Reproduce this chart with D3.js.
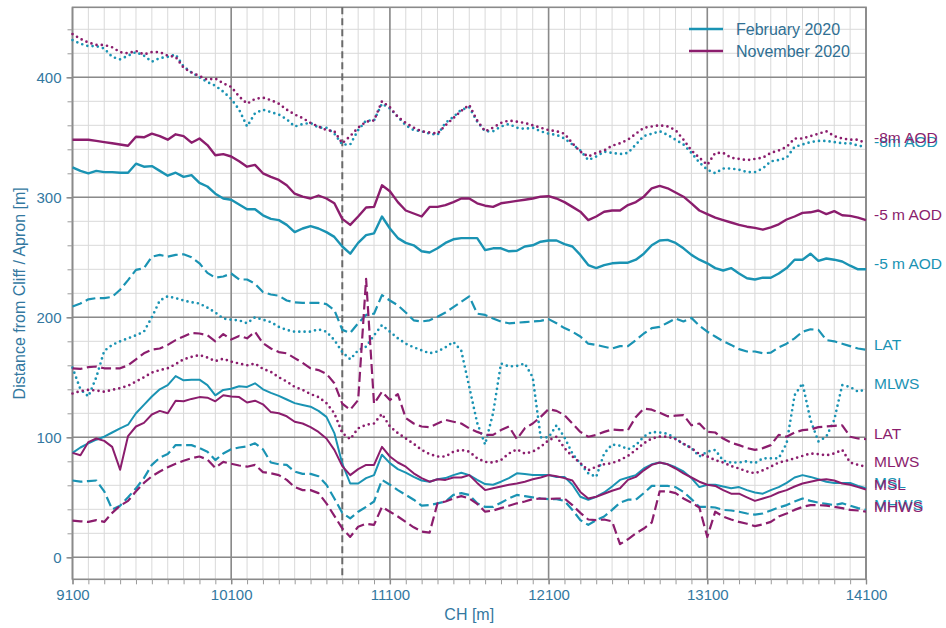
<!DOCTYPE html>
<html>
<head>
<meta charset="utf-8">
<script src="https://cdn.jsdelivr.net/npm/d3@7"></script>
<style>
  html, body { margin: 0; padding: 0; background: #fff; }
  svg { display: block; font-family: "Liberation Sans", Arial, sans-serif; }
</style>
</head>
<body>
<svg id="chart" width="946" height="628"></svg>
<script>
// Chainage along the frontage (m), one sample every 50 m
const ch = [
  9100, 9150, 9200, 9250, 9300, 9350, 9400, 9450, 9500, 9550,
  9600, 9650, 9700, 9750, 9800, 9850, 9900, 9950, 10000, 10050,
  10100, 10150, 10200, 10250, 10300, 10350, 10400, 10450, 10500, 10550,
  10600, 10650, 10700, 10750, 10800, 10850, 10900, 10950, 11000, 11050,
  11100, 11150, 11200, 11250, 11300, 11350, 11400, 11450, 11500, 11550,
  11600, 11650, 11700, 11750, 11800, 11850, 11900, 11950, 12000, 12050,
  12100, 12150, 12200, 12250, 12300, 12350, 12400, 12450, 12500, 12550,
  12600, 12650, 12700, 12750, 12800, 12850, 12900, 12950, 13000, 13050,
  13100, 13150, 13200, 13250, 13300, 13350, 13400, 13450, 13500, 13550,
  13600, 13650, 13700, 13750, 13800, 13850, 13900, 13950, 14000, 14050,
  14100
];

// Distance from cliff / apron (m) of each contour, February 2020 survey
const feb_m8 = [
  431, 428, 426, 426, 424, 417, 415, 418, 421, 418,
  413, 416, 417, 419, 409, 404, 400, 396, 393, 388,
  382, 373, 359, 370, 373, 371, 369, 365, 359, 361,
  362, 358, 358, 353, 344, 344, 356, 364, 364, 378,
  374, 367, 360, 356, 355, 353, 352, 362, 367, 373,
  375, 363, 355, 355, 359, 361, 358, 357, 358, 355,
  353, 352, 349, 344, 339, 331, 334, 338, 337, 336,
  337, 344, 351, 353, 355, 352, 348, 344, 337, 329,
  323, 320, 324, 324, 323, 321, 321, 324, 330, 331,
  333, 342, 344, 346, 347, 347, 346, 345, 345, 343,
  342
];
const feb_m5 = [
  325, 322, 320, 322, 321, 321, 320.5, 320.5, 328, 325.5,
  326, 322, 318, 320.5, 317, 318.5, 312, 309, 303, 299,
  298, 294, 290, 290, 285, 282, 281, 277, 271, 274,
  276, 274, 271, 267, 259, 253, 262, 268.5, 270, 284,
  274, 266, 262, 260, 255, 254, 257.5, 262, 265, 266,
  266, 266, 256, 257.5, 257.5, 255, 255.5, 259, 260, 263,
  264, 264, 261, 259, 252, 243.5, 241, 243.5, 245, 245.5,
  245.5, 248, 253, 260, 264, 264.5, 262, 257.5, 252, 248,
  245, 241, 239, 241, 236.5, 232.5, 231.5, 233, 233, 236.5,
  241, 248, 248, 253, 247, 249, 248, 246.5, 243, 240,
  240
];
const feb_lat = [
  209, 211.5, 215, 216, 216, 217, 223, 231, 239.5, 241,
  250.5, 252, 250.5, 252, 252.5, 250, 245, 237, 233, 234,
  236.5, 231.5, 231.5, 228, 221, 219, 218, 214, 212.5, 212,
  212, 212, 211, 206, 189.5, 187, 195, 202, 203, 218.5,
  214, 210, 204, 197.5, 196.5, 197.5, 200.5, 204, 208.5, 213,
  217.5, 203, 202, 199, 196.5, 195, 195.5, 196, 196.5, 197,
  198.5, 195, 191, 188, 184, 178, 177, 175.5, 174, 176,
  176, 181, 186.5, 191, 192, 195.5, 199, 196.5, 199.5, 193,
  188, 184, 180, 177, 173.5, 171.5, 171.5, 170, 170.5, 175,
  178, 182.5, 188, 190, 189.5, 181, 180, 178, 176, 174,
  173
];
const feb_mlws = [
  158, 140, 134, 150, 172, 177, 180, 182.5, 185, 188,
  200, 214, 217.5, 216, 214, 212.5, 211.5, 208, 204, 199,
  198, 197.5, 195, 200, 198, 196, 192, 189.5, 188, 188,
  188, 190, 188, 181, 171, 165, 172.5, 175.5, 185, 193.5,
  188, 182.5, 178, 175, 172.5, 170, 171.5, 175, 179.5, 172,
  142, 112, 94, 120, 161.5, 159, 159.5, 161.5, 150, 100,
  100, 110, 100, 86.5, 78, 70, 67, 86.5, 94, 93,
  90, 93.5, 100.5, 104.5, 104, 103, 99, 94.5, 91, 84,
  88, 89.5, 80.5, 79, 79, 80, 78.5, 82.5, 82.5, 82.5,
  95, 135, 145, 114.5, 96.5, 100.5, 114.5, 143.5, 142, 138,
  140
];
const feb_msl = [
  87, 91.5, 95, 98, 100.5, 104, 107.5, 110.5, 120, 127,
  134, 140, 143.5, 151, 147.5, 148, 148, 143.5, 135, 139.5,
  140.5, 142.5, 142, 145, 140, 137, 134.5, 131.5, 128.5, 127,
  125.5, 122, 117, 103.5, 78, 61.5, 61.5, 66, 68.5, 85.5,
  78.5, 73.5, 70.5, 67, 64, 63, 65, 66, 68.5, 70.5,
  68.5, 64.5, 61, 60.5, 63, 66, 70, 69.5, 68.5, 68.5,
  68.5, 67, 67, 60.5, 50.5, 48, 50.5, 54, 59, 64.5,
  66.5, 68.5, 74, 77.5, 79, 77.5, 75, 71.5, 66, 58.5,
  60.5, 60.5, 59, 57.5, 58.5, 56, 54, 53, 56, 58.5,
  62, 66.5, 68.5, 67, 65, 63, 62, 62, 62, 59.5,
  57.5
];
const feb_mhws = [
  64, 63, 63.5, 64, 55, 40, 43, 50, 57.5, 66,
  77, 83, 86, 93.5, 93.5, 93.5, 91, 88, 81, 86.5,
  90, 91.5, 92.5, 95, 90, 79, 77.5, 77, 71.5, 69.5,
  69.5, 67.5, 60.5, 49, 37, 32.5, 38, 42, 46.5, 64.5,
  60.5, 56, 52, 48, 43, 43.5, 45, 46.5, 52, 53.5,
  52, 45, 42, 42, 45.5, 49, 52, 51, 50, 49,
  48.5, 48.5, 47, 39.5, 31, 27, 31, 34, 39.5, 45.5,
  48, 48, 53.5, 59.5, 59.5, 59.5, 58.5, 54.5, 48.5, 42,
  42, 41.5, 39.5, 39, 38, 36.5, 35.5, 36.5, 39, 41.5,
  43.5, 46.5, 49, 47, 45.5, 44.5, 43.5, 45, 43, 41,
  39.5
];

// Distance from cliff / apron (m) of each contour, November 2020 survey
const nov_m8 = [
  436, 432, 429, 427, 427, 425, 421, 420, 422, 419,
  421, 421, 418, 417, 408, 404, 401, 398, 399, 395,
  392, 384, 378, 382, 383, 381, 378, 373, 369, 366,
  362, 359, 356, 355, 345, 351, 358, 363, 364, 380,
  375, 367, 362, 358, 355, 354, 353, 360, 366, 372,
  377, 364, 355, 358, 362, 364, 363, 362, 360, 358,
  356, 355, 353, 345, 338, 334, 337, 339, 343, 345,
  348, 353, 358, 359, 360, 359, 356, 348, 339, 333,
  327, 337, 337, 333, 332, 331, 332, 333, 337, 339,
  342, 349, 349, 351, 353, 355, 351, 349, 348, 348,
  345
];
const nov_m5 = [
  348, 348, 348, 347, 346, 345, 344, 343, 350.5, 350,
  353, 351, 348, 352.5, 351, 345.5, 349, 343.5, 335, 336,
  334, 330, 325.5, 327, 320, 317, 314.5, 310, 303, 300.5,
  299, 301.5, 299, 295, 282, 277, 284, 291.5, 292, 310,
  305, 296, 289, 286.5, 284, 292, 292, 293.5, 296, 299,
  299, 295, 293, 292, 295, 296, 297, 298, 299, 300.5,
  301, 299, 296, 292, 288, 281, 284, 288, 289, 289,
  293.5, 296, 300.5, 307.5, 309.5, 307.5, 304, 300.5, 295, 289,
  286, 283, 281, 279, 277, 275.5, 274.5, 273, 275, 277.5,
  281.5, 284, 287, 287.5, 289, 286, 288.5, 285, 284.5, 283,
  281
];
const nov_lat = [
  157.5, 157, 158.5, 159, 157.5, 157.5, 157.5, 160, 165, 170,
  173, 174, 177, 181, 184, 187, 186.5, 185, 180, 186,
  181.5, 184.5, 182.5, 188, 178.5, 174, 171, 170, 166, 162,
  157.5, 156, 153, 145, 128, 123, 131, 232, 128, 138,
  131, 136, 116, 111.5, 109, 108.5, 111.5, 114.5, 113, 111.5,
  107.5, 104.5, 102, 102, 106, 109, 98.5, 107.5, 111.5, 117,
  123.5, 122, 118.5, 111.5, 104.5, 100.5, 102, 104.5, 106.5, 106,
  106, 117, 124, 123, 120.5, 117.5, 118, 118.5, 110, 111.5,
  104.5, 104, 99, 95.5, 93.5, 91, 89.5, 91, 93.5, 102,
  100.5, 104, 106, 106.5, 108.5, 109, 109.5, 110, 100.5, 99,
  98.5
];
const nov_mlws = [
  136.5, 138.5, 139.5, 139, 138, 139.5, 141, 143, 146.5, 150,
  154, 156, 157.5, 161, 165, 167, 168.5, 166.5, 163.5, 165.5,
  163, 161.5, 160, 161.5, 157, 154.5, 150, 146.5, 142, 139.5,
  136, 133.5, 128.5, 120, 103.5, 98.5, 107.5, 110.5, 111.5, 119.5,
  109, 103.5, 99, 94.5, 89.5, 86, 84, 84, 88, 89.5,
  88, 82.5, 79.5, 79, 81, 86.5, 90, 86.5, 88, 92,
  97.5, 100.5, 91, 84, 78.5, 72.5, 75.5, 77.5, 78.5, 81,
  84.5, 89.5, 95, 99, 100.5, 100.5, 98.5, 94.5, 91, 86,
  84, 81, 79, 76, 74, 71.5, 70, 72.5, 75.5, 79,
  80.5, 82.5, 84.5, 86.5, 86, 85, 86.5, 89.5, 79, 77,
  75.5
];
const nov_msl = [
  87, 85, 96, 99, 97, 92, 73, 101, 109, 112,
  119, 122, 120, 130.5, 130, 132, 133.5, 133, 130, 135,
  134, 133.5, 129, 130.5, 127.5, 121, 120, 117.5, 113, 111.5,
  108.5, 104.5, 99, 89.5, 76, 68.5, 73.5, 77, 77, 92,
  84, 79, 75.5, 70, 66, 63, 65, 64.5, 66.5, 66.5,
  68.5, 62, 56, 57.5, 59, 60.5, 61.5, 63, 65, 66.5,
  68.5, 67.5, 66, 64, 54.5, 49, 50.5, 53, 55.5, 57.5,
  64.5, 67, 72.5, 77, 79, 77.5, 74, 70, 66.5, 63,
  60.5, 59.5, 56, 53, 53, 50, 47, 49, 51, 54,
  56, 59, 61.5, 63, 64.5, 65, 64, 61.5, 60.5, 58.5,
  56.5
];
const nov_mhws = [
  30.5, 30, 29.5, 31, 29.5, 37, 43, 47, 55, 62,
  67.5, 71.5, 75, 78, 80.5, 82.5, 84, 81.5, 74.5, 79.5,
  78, 76.5, 75.5, 77, 71, 70, 68.5, 64.5, 58.5, 56,
  56, 53.5, 45, 34.5, 24, 17, 25.5, 28, 27, 42,
  38, 34, 29.5, 25, 21.5, 20.5, 45, 46.5, 49, 51,
  49, 44.5, 38, 39, 41, 43, 45, 46.5, 48.5, 49,
  48.5, 49, 49, 43.5, 37, 31.5, 31, 31.5, 30, 11,
  15, 20, 24, 29, 55, 55, 53.5, 49, 45.5, 41.5,
  17, 38, 34, 31.5, 29.5, 28, 26, 27.5, 29.5, 34,
  36.5, 39.5, 42, 43.5, 43.5, 43, 42, 41, 39.5, 39,
  38
];

// Axis ticks
const xMajorTicks = [9100, 10100, 11100, 12100, 13100, 14100];
const yMajorTicks = [0, 100, 200, 300, 400];
const markerCH = 10800;   // dashed reference chainage

const months = ["February 2020", "November 2020"];
const colours = { "February 2020": "#1a93b3", "November 2020": "#8b1d6d" };
const textColour = "#33789f";

// Line styles per contour
const styles = {
  "-8m AOD":  { dash: "0 5.3",  width: 2.7, cap: "round" },
  "-5 m AOD": { dash: null,     width: 2.4, cap: "butt" },
  "LAT":      { dash: "10 4.5", width: 2.2, cap: "butt" },
  "MLWS":     { dash: "0 5.3",  width: 2.7, cap: "round" },
  "MSL":      { dash: null,     width: 2.0, cap: "butt" },
  "MHWS":     { dash: "10 4.5", width: 2.2, cap: "butt" }
};

const series = [
  { month: months[0], label: "-8m AOD",  values: feb_m8 },
  { month: months[0], label: "-5 m AOD", values: feb_m5 },
  { month: months[0], label: "LAT",      values: feb_lat },
  { month: months[0], label: "MLWS",     values: feb_mlws },
  { month: months[0], label: "MSL",      values: feb_msl },
  { month: months[0], label: "MHWS",     values: feb_mhws },
  { month: months[1], label: "-8m AOD",  values: nov_m8 },
  { month: months[1], label: "-5 m AOD", values: nov_m5 },
  { month: months[1], label: "LAT",      values: nov_lat },
  { month: months[1], label: "MLWS",     values: nov_mlws },
  { month: months[1], label: "MSL",      values: nov_msl },
  { month: months[1], label: "MHWS",     values: nov_mhws }
];

const svg = d3.select("#chart");
const plotL = 72.5, plotR = 866, plotT = 7.3, plotB = 579.3;

const x = d3.scaleLinear().domain([9100, 14100]).range([plotL, plotR]);
const y = d3.scaleLinear().domain([-18.33, 458.33]).range([plotB, plotT]);

// Minor grid
const g = svg.append("g");
g.selectAll("line.vminor").data(d3.range(9100, 14101, 100)).join("line")
  .attr("class", "vminor")
  .attr("x1", d => x(d)).attr("x2", d => x(d)).attr("y1", plotT).attr("y2", plotB)
  .attr("stroke", "#d9d9d9").attr("stroke-width", 1);
g.selectAll("line.hminor").data(d3.range(0, 458, 20)).join("line")
  .attr("class", "hminor")
  .attr("x1", plotL).attr("x2", plotR).attr("y1", d => y(d)).attr("y2", d => y(d))
  .attr("stroke", "#d9d9d9").attr("stroke-width", 1);

// Major grid
g.selectAll("line.vmajor").data(xMajorTicks).join("line")
  .attr("class", "vmajor")
  .attr("x1", d => x(d)).attr("x2", d => x(d)).attr("y1", plotT).attr("y2", plotB)
  .attr("stroke", "#8a8a8a").attr("stroke-width", 1.6);
g.selectAll("line.hmajor").data(yMajorTicks).join("line")
  .attr("class", "hmajor")
  .attr("x1", plotL).attr("x2", plotR).attr("y1", d => y(d)).attr("y2", d => y(d))
  .attr("stroke", "#8a8a8a").attr("stroke-width", 1.6);

// Frame
svg.append("rect").attr("x", plotL).attr("y", plotT)
  .attr("width", plotR - plotL).attr("height", plotB - plotT)
  .attr("fill", "none").attr("stroke", "#8a8a8a").attr("stroke-width", 1.6);

// Axes (ticks outside the frame)
const xAxisMinor = d3.axisBottom(x).tickValues(d3.range(9100, 14101, 100)).tickSize(5).tickFormat("");
const yAxisMinor = d3.axisLeft(y).tickValues(d3.range(0, 458, 20)).tickSize(5).tickFormat("");
const xa = svg.append("g").attr("transform", `translate(0,${plotB})`).call(xAxisMinor);
const ya = svg.append("g").attr("transform", `translate(${plotL},0)`).call(yAxisMinor);
[xa, ya].forEach(a => {
  a.select(".domain").remove();
  a.selectAll(".tick line").attr("stroke", "#9a9a9a").attr("stroke-width", 1);
});

const xAxis = d3.axisBottom(x).tickValues(xMajorTicks).tickSize(5).tickPadding(6).tickFormat(d3.format("d"));
const yAxis = d3.axisLeft(y).tickValues(yMajorTicks).tickSize(6).tickPadding(5).tickFormat(d3.format("d"));
const xb = svg.append("g").attr("transform", `translate(0,${plotB})`).call(xAxis);
const yb = svg.append("g").attr("transform", `translate(${plotL},0)`).call(yAxis);
[xb, yb].forEach(a => {
  a.select(".domain").remove();
  a.selectAll(".tick line").attr("stroke", "#8a8a8a").attr("stroke-width", 1.4);
  a.selectAll(".tick text").attr("fill", textColour)
    .style("font-size", "15px").style("font-family", "'Liberation Sans', Arial, sans-serif");
});
xb.selectAll(".tick text").attr("dy", "0.71em").attr("y", 10.5);

// Axis titles
svg.append("text").attr("x", (plotL + plotR) / 2).attr("y", 620)
  .attr("text-anchor", "middle").attr("fill", textColour)
  .style("font-size", "16px").text("CH [m]");
svg.append("text").attr("transform", `translate(25,${(plotT + plotB) / 2}) rotate(-90)`)
  .attr("text-anchor", "middle").attr("fill", textColour)
  .style("font-size", "16px").text("Distance from Cliff / Apron [m]");

// Dashed reference line
svg.append("line").attr("x1", x(markerCH)).attr("x2", x(markerCH))
  .attr("y1", plotT).attr("y2", plotB)
  .attr("stroke", "#6a6a6a").attr("stroke-width", 2).attr("stroke-dasharray", "7 4");

// Contour lines
const line = d3.line().x((d, i) => x(ch[i])).y(d => y(d));
const lines = svg.append("g");
series.forEach(s => {
  const st = styles[s.label];
  lines.append("path").datum(s.values)
    .attr("d", line)
    .attr("fill", "none")
    .attr("stroke", colours[s.month])
    .attr("stroke-width", st.width)
    .attr("stroke-linecap", st.cap)
    .attr("stroke-linejoin", "round")
    .attr("stroke-dasharray", st.dash);
});

// End labels at the last value of each contour
series.forEach(s => {
  svg.append("text")
    .attr("x", plotR + 8)
    .attr("y", y(s.values[s.values.length - 1]))
    .attr("fill", colours[s.month])
    .style("font-size", "15.5px")
    .text(s.label);
});

// Legend
const legend = svg.append("g");
months.forEach((m, i) => {
  const ly = 29 + i * 22;
  legend.append("line").attr("x1", 689).attr("x2", 723).attr("y1", ly).attr("y2", ly)
    .attr("stroke", colours[m]).attr("stroke-width", 2.6);
  legend.append("text").attr("x", 736).attr("y", ly + 5.5)
    .attr("fill", "#2f6f93").style("font-size", "16px").text(m);
});
</script>
</body>
</html>
